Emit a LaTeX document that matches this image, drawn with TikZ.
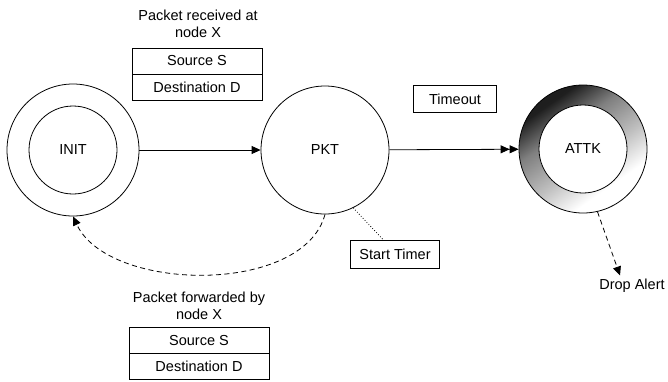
\documentclass[tikz,border=0pt]{standalone}
\usepackage{fontspec}
\setmainfont{Liberation Sans}
\usetikzlibrary{positioning,arrows.meta}
\pgfdeclareverticalshading{ringshade}{100bp}{color(0bp)=(white); color(32bp)=(white);
  color(45bp)=(black!25); color(60bp)=(black!50);
  color(72bp)=(black!88); color(100bp)=(black!90)}
\tikzset{
  state/.style={circle,draw,minimum size=128pt,inner sep=0pt},
  core/.style={circle,draw,minimum size=88pt,inner sep=0pt},
  field/.style={draw,minimum height=26pt,inner sep=0pt},
  tag/.style={draw,minimum height=27pt,inner sep=0pt},
  dashy/.style={dash pattern=on 5pt off 3.5pt},
  tip/.style={-{Triangle[length=9pt,width=8pt]}},
  tips/.style={-{Triangle[length=9pt,width=8pt]Triangle[length=9pt,width=8pt]}}
}
\begin{document}
\begin{tikzpicture}[x=1pt,y=-1pt,line width=0.8pt,font=\fontsize{14.5}{17}\selectfont]
  \useasboundingbox (0,0) rectangle (668,381);
  \node[state,minimum size=132pt] (initout) at (73,150) {};
  \node[core] (init) at (73,150) {INIT};
  \node[state] (pkt) at (325,150) {PKT};
  \node[state,shading=ringshade,shading angle=35] (attkout) at (583,149) {};
  \node[core,fill=white] (attk) at (583,149) {ATTK};
  % packet boxes
  \node[align=center] (rcvd) at (198,24) {Packet received at\\node X};
  \node[field,minimum width=130pt] (rsrc) at (197,61) {Source S};
  \node[field,minimum width=130pt,below=0pt of rsrc] (rdst) {Destination D};
  \node[align=center] (fwd) at (199,306) {Packet forwarded by\\node X};
  \node[field,minimum width=140pt] (fsrc) at (199,340) {Source S};
  \node[field,minimum width=140pt,below=0pt of fsrc] (fdst) {Destination D};
  % labels
  \node[tag,minimum width=83pt] (tout) at (455,99) {Timeout};
  \node[tag,minimum width=89pt,minimum height=28pt] (st) at (395,254) {Start Timer};
  \node (drop) at (632,286) {Drop Alert};
  % transitions
  \draw[tip] (initout) -- (pkt);
  \draw[tips] (pkt) -- (attkout);
  \draw[dashy,tip] (pkt.south) to[out=-105,in=-65,looseness=0.85] (initout.south);
  \draw[dotted] (pkt.-64) -- ([xshift=-12pt]st.north);
  \draw[dashy,tip] (attkout.-77) -- ([xshift=-12pt]drop.north);
\end{tikzpicture}
\end{document}
